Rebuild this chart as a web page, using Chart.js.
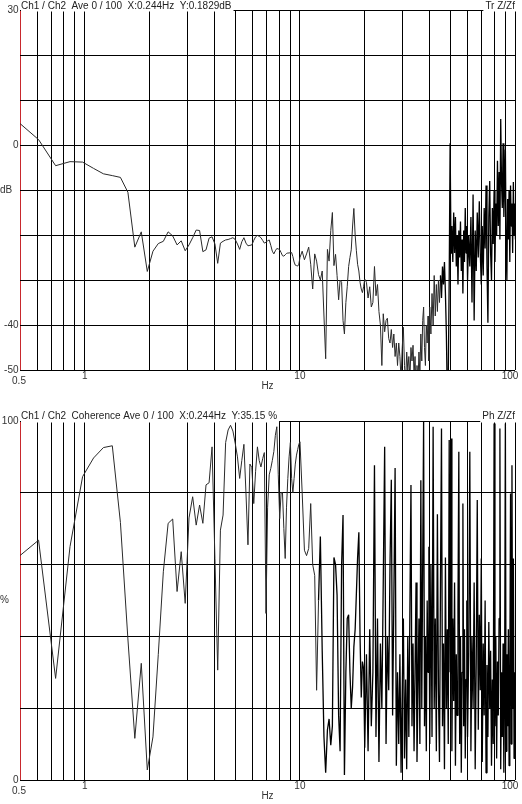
<!DOCTYPE html>
<html>
<head>
<meta charset="utf-8">
<title>Ch1 / Ch2</title>
<script src="https://cdn.jsdelivr.net/npm/chart.js@4.4.0/dist/chart.umd.min.js"></script>
<style>
  body { margin: 0; background: #fff; }
  #wrap { position: relative; width: 522px; height: 804px; }
  canvas { position: absolute; left: 0; }
  #tr { top: 0; }
  #coh { top: 400px; }
</style>
</head>
<body>
<div id="wrap">
  <canvas id="tr" width="522" height="400"></canvas>
  <canvas id="coh" width="522" height="404"></canvas>
</div>
<script>
// Frecuencias (Hz), compartidas por las dos curvas
const hz = [
  0.488, 0.61, 0.732, 0.854, 0.977, 1.099, 1.221, 1.343, 1.465, 1.587,
  1.709, 1.831, 1.953, 2.075, 2.197, 2.319, 2.441, 2.563, 2.686, 2.808,
  2.93, 3.052, 3.174, 3.296, 3.418, 3.54, 3.662, 3.784, 3.906, 4.028,
  4.15, 4.272, 4.395, 4.517, 4.639, 4.761, 4.883, 5.005, 5.127, 5.249,
  5.371, 5.493, 5.615, 5.737, 5.859, 5.981, 6.104, 6.226, 6.348, 6.47,
  6.592, 6.714, 6.836, 6.958, 7.08, 7.202, 7.324, 7.446, 7.568, 7.69,
  7.813, 7.935, 8.057, 8.179, 8.301, 8.423, 8.545, 8.667, 8.789, 8.911,
  9.033, 9.155, 9.277, 9.399, 9.521, 9.644, 9.766, 9.888, 10.01,
  // 10 - 20 Hz
  10.25, 10.5, 10.74, 10.99, 11.23, 11.47, 11.72, 11.96, 12.21, 12.45,
  12.7, 12.94, 13.18, 13.43, 13.67, 13.92, 14.16, 14.4, 14.65, 14.89,
  15.14, 15.38, 15.63, 15.87, 16.11, 16.36, 16.6, 16.85, 17.09, 17.33,
  17.58, 17.82, 18.07, 18.31, 18.55, 18.8, 19.04, 19.29, 19.53, 19.78,
  20.02,
  // 20 - 40 Hz
  20.39, 20.75, 21.12, 21.48, 21.85, 22.22, 22.58, 22.95, 23.31, 23.68,
  24.05, 24.41, 24.78, 25.15, 25.51, 25.88, 26.24, 26.61, 26.98, 27.34,
  27.71, 28.08, 28.44, 28.81, 29.17, 29.54, 29.91, 30.27, 30.64, 31.01,
  31.37, 31.74, 32.1, 32.47, 32.84, 33.2, 33.57, 33.94, 34.3, 34.67,
  35.03, 35.4, 35.77, 36.13, 36.5, 36.87, 37.23, 37.6, 37.96, 38.33,
  38.7, 39.06, 39.43, 39.79, 40.16,
  // 40 - 60 Hz
  40.65, 41.14, 41.63, 42.11, 42.6, 43.09, 43.58, 44.07, 44.56, 45.04,
  45.53, 46.02, 46.51, 47.0, 47.49, 47.97, 48.46, 48.95, 49.44, 49.93,
  50.42, 50.9, 51.39, 51.88, 52.37, 52.86, 53.35, 53.83, 54.32, 54.81,
  55.3, 55.79, 56.27, 56.76, 57.25, 57.74, 58.23, 58.72, 59.2, 59.69,
  60.18,
  // 60 - 100 Hz
  60.91, 61.65, 62.38, 63.11, 63.84, 64.58, 65.31, 66.04, 66.77, 67.5,
  68.24, 68.97, 69.7, 70.43, 71.17, 71.9, 72.63, 73.36, 74.1, 74.83,
  75.56, 76.29, 77.03, 77.76, 78.49, 79.22, 79.96, 80.69, 81.42, 82.15,
  82.89, 83.62, 84.35, 85.08, 85.82, 86.55, 87.28, 88.01, 88.75, 89.48,
  90.21, 90.94, 91.67, 92.41, 93.14, 93.87, 94.6, 95.34, 96.07, 96.8,
  97.53, 98.27, 99.0, 99.73, 100.46
];

// Funcion de transferencia Z/Zf (dB)
const trDb = [
  5.2, 1.2, -4.6, -3.7, -3.8, -5.2, -6.4, -6.8, -7.2, -10.5,
  -22.7, -19.3, -28.1, -23.6, -21.9, -21.4, -19.3, -20.2, -22.2, -21.3,
  -23.5, -22.2, -20.6, -18.9, -19.0, -23.7, -23.3, -20.7, -20.4, -22,
  -26.3, -21.8, -21.4, -21.1, -21, -20.8, -20.6, -21.0, -22, -23.2,
  -21.5, -20.6, -21.8, -22.4, -22.3, -22.2, -21.2, -20.4, -20.1, -20.3,
  -20.6, -21.2, -21.8, -21.6, -21.3, -21.1, -22.3, -23.6, -24.2, -23.5,
  -23, -23.1, -23.3, -23.9, -24.6, -24.7, -24.4, -24.1, -24.0, -24.0,
  -23.9, -23.9, -24.8, -26, -26.7, -26.8, -26.9, -26.5, -25,
  -23.6, -25.5, -24.2, -22.7, -26.5, -32.0, -24.2, -25.8, -28.8, -30,
  -28, -38, -47.5, -23.2, -25.8, -19, -15, -26.8, -24.3, -29,
  -34.4, -30, -30.5, -39, -42, -35, -31.5, -27, -25, -23.3,
  -18, -14.1, -20, -23.5, -26.5, -28, -30.5, -32, -32.8, -31.5,
  -29.8,
  -30.5, -34, -31.5, -36, -35, -27, -33.5, -31, -37, -40,
  -49, -37.5, -41.5, -39, -38.5, -43, -44, -41, -45, -42,
  -47, -44, -49, -44, -47, -52, -45, -40.5, -49, -53,
  -46, -50, -47, -52, -45, -48, -44.5, -51, -47, -55,
  -49, -53, -46, -51, -42, -48, -39, -36, -45, -49,
  -40, -44, -38, -48, -36,
  -42, -33, -40, -29, -38, -31, -37, -30, -35, -29,
  -34, -27, -31, -26, -33, -42, -56, -52, -30, 0.4,
  -24, -18, -26, -15, -24, -16, -27, -20, -31, -19,
  -25, -17, -28, -21, -33, -19, -26, -14, -24, -18,
  -30,
  -20, -27, -16, -35, -11, -39, -19, -28, -15, -25,
  -12.5, -24, -31, -18, -29, -14, -23, -9, -27, -39.5,
  -16, -8, -24, -30, -14, -22, -10, -26, -13, -20,
  -3.5, -18, -6, -21, 5.8, -8, -14, 0.4, -16, -9,
  -1, -22, -30, -12, -21, -10, -26, -9, -18, -13,
  -24, -8.2, -20, -13, -21
];

// Coherencia (%)
const cohPct = [
  62, 66.8, 28.3, 65, 84.5, 89.7, 92.6, 93.1, 71.7, 39.3,
  11.6, 32.5, 2.8, 12, 35, 58, 71.5, 72.7, 52.5, 63.6,
  49.2, 73, 78.9, 71, 76.6, 71.5, 82.2, 82.8, 92.8, 61.7,
  30.6, 69.6, 73.8, 94, 97.5, 98.8, 97.2, 93.8, 90, 84,
  89, 93.5, 80, 65.5, 88, 87, 77, 86, 92.8, 89,
  87.2, 89.5, 91.2, 46.4, 76, 85, 86.8, 89, 91.5, 96,
  98.4, 85, 72.8, 80, 80, 70, 61.7, 76, 84, 90,
  94, 84, 80, 84, 88, 90.5, 92, 93.5, 94.2,
  80, 64, 62.5, 64.5, 77, 60, 57, 25, 50, 67.8,
  36, 12, 2, 14, 17, 9.7, 15, 62, 60, 51.5,
  18, 8, 60, 73.8, 1.4, 30, 45, 46, 30, 20,
  26, 37, 42, 52, 62, 69, 40, 23, 33, 31,
  9,
  35, 8, 42, 15, 30, 87.7, 12, 45, 5, 38,
  20, 55, 92.8, 10, 40, 25, 60, 83.6, 18, 50,
  86.9, 4, 30, 10, 35, 2, 25, 45, 6, 28,
  3, 40, 12, 48, 82.2, 15, 38, 8, 30, 55,
  5, 25, 45, 10, 83.5, 20, 60, 99.8, 15, 40,
  8, 50, 30, 65, 10,
  60, 12, 98.4, 20, 45, 8, 74, 25, 5, 55,
  97.9, 15, 38, 3, 62, 20, 42, 10, 94.7, 30,
  95.1, 8, 45, 22, 55, 4, 35, 18, 48, 91.4,
  10, 40, 2, 30, 77, 15, 42, 6, 28, 50,
  12,
  35, 91.4, 8, 40, 20, 55, 3, 33, 78, 14,
  46, 25, 61.7, 5, 38, 18, 50, 2, 32, 12,
  44, 20, 36, 4, 28, 10, 99.3, 15, 40, 6,
  33, 18, 45, 97.9, 3, 30, 12, 38, 2, 26,
  99.3, 8, 35, 15, 42, 4, 28, 79.8, 10, 87.7,
  20, 61.7, 6, 30, 14
];

// Rejilla y etiquetas de los ejes
const hzGrid = [0.5, 0.6, 0.7, 0.8, 0.9, 1, 2, 3, 4, 5, 6, 7, 8, 9, 10, 20, 30, 40, 50, 60, 70, 80, 90, 100];
const hzLabels = [0.5, 1, 10, 100];
const dbGrid = [-50, -40, -30, -20, -10, 0, 10, 20, 30];
const dbLabels = [30, 0, -40, -50];
const pctGrid = [0, 20, 40, 60, 80, 100];
const pctLabels = [100, 0];

const FONT = '10px "Liberation Sans", Arial, sans-serif';

// Textos del panel: etiquetas, titulos con fondo blanco
const panelText = {
    id: 'panelText',
    afterDraw(chart, args, opts) {
        const ctx = chart.ctx;
        const a = chart.chartArea;
        const x = chart.scales.x;
        const y = chart.scales.y;
        ctx.save();
        ctx.font = FONT;
        ctx.fillStyle = '#333';

        ctx.textBaseline = 'middle';
        ctx.textAlign = 'right';
        opts.yLabels.forEach(v => ctx.fillText(String(v), a.left - 1.5, y.getPixelForValue(v)));
        ctx.textAlign = 'left';
        ctx.fillText(opts.yTitle, 0, (a.top + a.bottom) / 2);

        ctx.textAlign = 'center';
        hzLabels.forEach(v => {
            let px = x.getPixelForValue(v);
            let py = a.bottom + 6;
            if (v === 0.5) { px -= 1; py += 5; }
            if (v === 100) px -= 5;
            ctx.fillText(String(v), px, py);
        });
        ctx.fillText('Hz', (a.left + a.right) / 2, a.bottom + 16);

        // titulo izquierdo y etiqueta derecha
        ctx.textBaseline = 'alphabetic';
        const boxTop = opts.titleY - 9;
        const boxH = a.top + 1.5 - boxTop;
        const w1 = ctx.measureText(opts.title).width;
        ctx.fillStyle = '#fff';
        ctx.fillRect(a.left + 1, boxTop, w1 + 2, boxH);
        const w2 = ctx.measureText(opts.tag).width;
        ctx.fillRect(a.right - w2 - 2, boxTop, w2 + 3, boxH);
        ctx.fillStyle = '#222';
        ctx.textAlign = 'left';
        ctx.fillText(opts.title, a.left + 1, opts.titleY);
        ctx.textAlign = 'right';
        ctx.fillText(opts.tag, a.right, opts.titleY);
        ctx.restore();
    }
};

function makeChart(id, values, yMin, yMax, yGrid, denseFrom, padding, text) {
    return new Chart(document.getElementById(id), {
        type: 'line',
        data: {
            datasets: [{
                data: hz.map((f, i) => ({ x: f, y: values[i] })),
                borderColor: '#2a2a2a',
                borderWidth: 1,
                borderJoinStyle: 'bevel',
                pointRadius: 0,
                tension: 0,
                fill: false,
                // zona ruidosa: trazo mas oscuro
                segment: {
                    borderColor: c => c.p0.parsed.x >= denseFrom ? '#000' : undefined,
                    borderWidth: c => c.p0.parsed.x >= denseFrom ? 1.3 : undefined
                }
            }]
        },
        options: {
            responsive: false,
            animation: false,
            devicePixelRatio: 1,
            layout: { padding: padding },
            plugins: {
                legend: { display: false },
                tooltip: { enabled: false },
                panelText: text
            },
            scales: {
                x: {
                    type: 'logarithmic',
                    min: 0.5,
                    max: 100,
                    afterBuildTicks: s => { s.ticks = hzGrid.map(v => ({ value: v })); },
                    ticks: { display: false },
                    grid: {
                        color: c => (c.tick && c.tick.value === 0.5) ? '#c8282d' : '#000',
                        lineWidth: 1,
                        drawTicks: false
                    },
                    border: { display: false }
                },
                y: {
                    type: 'linear',
                    min: yMin,
                    max: yMax,
                    afterBuildTicks: s => { s.ticks = yGrid.map(v => ({ value: v })); },
                    ticks: { display: false },
                    grid: { color: '#000', lineWidth: 1, drawTicks: false },
                    border: { display: false }
                }
            }
        },
        plugins: [panelText]
    });
}

makeChart('tr', trDb, -50, 30, dbGrid, 45,
    { left: 20, right: 7, top: 10, bottom: 30 },
    { title: 'Ch1 / Ch2  Ave 0 / 100  X:0.244Hz  Y:0.1829dB', tag: 'Tr Z/Zf', titleY: 9.3, yTitle: 'dB', yLabels: dbLabels });

makeChart('coh', cohPct, 0, 100, pctGrid, 12,
    { left: 20, right: 7, top: 21, bottom: 24 },
    { title: 'Ch1 / Ch2  Coherence Ave 0 / 100  X:0.244Hz  Y:35.15 %', tag: 'Ph Z/Zf', titleY: 19, yTitle: '%', yLabels: pctLabels });
</script>
</body>
</html>
